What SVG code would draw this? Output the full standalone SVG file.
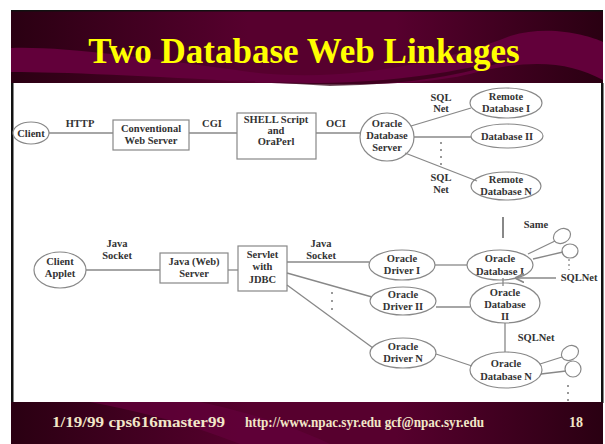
<svg xmlns="http://www.w3.org/2000/svg" width="605" height="444" viewBox="0 0 605 444">
<defs>
<linearGradient id="bg" x1="0" y1="0" x2="1" y2="0">
<stop offset="0" stop-color="#2a0012"/>
<stop offset="0.4" stop-color="#57002e"/>
<stop offset="0.65" stop-color="#57002e"/>
<stop offset="1" stop-color="#2a0012"/>
</linearGradient>
<marker id="ah" viewBox="0 0 10 10" refX="9" refY="5" markerWidth="7" markerHeight="7" orient="auto">
<path d="M0,0 L10,5 L0,10" fill="none" stroke="#888" stroke-width="2"/>
</marker>
<style>
.n ellipse,.n rect{fill:#fff;stroke:#888;stroke-width:1.2}
.t{font-family:"Liberation Serif","Times New Roman",serif;font-weight:bold;font-size:10.5px;fill:#333;text-anchor:middle}
.c line{stroke:#888;stroke-width:1.3}
.d{fill:#777}
.f{font-family:"Liberation Serif","Times New Roman",serif;font-weight:bold;font-size:14px;fill:#f2e6c8}
</style>
</defs>
<rect width="605" height="444" fill="#fff"/>
<!-- top banner -->
<rect x="11" y="10" width="592" height="73" fill="url(#bg)"/>
<path d="M11,48 C60,46 150,58 250,72 C350,84 450,60 510,36 C550,24 590,36 603,42 L603,80 C570,62 530,58 470,74 C420,86 340,86 250,82 C150,76 60,72 11,72 Z" fill="#62003a"/>
<path d="M230,80 C330,88 430,80 500,60 L520,56 C470,74 420,84 330,86 Z" fill="#300014" opacity="0.7"/>
<rect x="11" y="10" width="592" height="1.5" fill="#111"/>
<text x="304" y="63" font-family="Liberation Serif,'Times New Roman',serif" font-weight="bold" font-size="35" fill="#ffff00" text-anchor="middle">Two Database Web Linkages</text>
<!-- side rules -->
<rect x="11" y="83" width="2.5" height="320" fill="#111"/>
<rect x="601" y="83" width="2.5" height="320" fill="#111"/>
<!-- bottom banner -->
<rect x="11" y="402" width="592" height="42" fill="url(#bg)"/>
<path d="M90,402 C130,410 180,420 240,444 L330,444 C280,420 220,406 200,402 Z" fill="#62003a" opacity="0.8"/>
<text class="f" x="52" y="427" textLength="173" lengthAdjust="spacingAndGlyphs">1/19/99 cps616master99</text>
<text class="f" x="245" y="427" textLength="239" lengthAdjust="spacingAndGlyphs">http://www.npac.syr.edu gcf@npac.syr.edu</text>
<text class="f" x="583" y="427" text-anchor="end">18</text>

<!-- nodes -->
<g id="client" class="n"><ellipse cx="31" cy="133" rx="18" ry="11"/><text class="t" x="31" y="137">Client</text></g>
<g id="conv-web-server" class="n"><rect x="113" y="120" width="76" height="30"/><text class="t" x="151" y="132">Conventional</text><text class="t" x="151" y="144">Web Server</text></g>
<g id="shell-script" class="n"><rect x="237" y="113" width="79" height="46"/><text class="t" x="276" y="123">SHELL Script</text><text class="t" x="276" y="134">and</text><text class="t" x="276" y="145">OraPerl</text></g>
<g id="oracle-db-server" class="n"><ellipse cx="387" cy="137" rx="27" ry="24"/><text class="t" x="387" y="127">Oracle</text><text class="t" x="387" y="139">Database</text><text class="t" x="387" y="151">Server</text></g>
<g id="remote-db-1" class="n"><ellipse cx="506" cy="103" rx="36" ry="15"/><text class="t" x="506" y="100">Remote</text><text class="t" x="506" y="112">Database I</text></g>
<g id="db-2" class="n"><ellipse cx="507" cy="136" rx="36" ry="12"/><text class="t" x="507" y="140">Database II</text></g>
<g id="remote-db-n" class="n"><ellipse cx="506" cy="186" rx="35" ry="14"/><text class="t" x="506" y="183">Remote</text><text class="t" x="506" y="195">Database N</text></g>

<g id="client-applet" class="n"><ellipse cx="60" cy="270" rx="26" ry="18"/><text class="t" x="60" y="265">Client</text><text class="t" x="60" y="277">Applet</text></g>
<g id="java-web-server" class="n"><rect x="160" y="253" width="68" height="30"/><text class="t" x="194" y="265">Java (Web)</text><text class="t" x="194" y="277">Server</text></g>
<g id="servlet" class="n"><rect x="238" y="246" width="49" height="45"/><text class="t" x="262.5" y="258">Servlet</text><text class="t" x="262.5" y="270">with</text><text class="t" x="262.5" y="283">JDBC</text></g>
<g id="oracle-driver-1" class="n"><ellipse cx="402" cy="265" rx="33" ry="15"/><text class="t" x="402" y="262">Oracle</text><text class="t" x="402" y="274">Driver I</text></g>
<g id="oracle-driver-2" class="n"><ellipse cx="403" cy="301" rx="33" ry="14"/><text class="t" x="403" y="298">Oracle</text><text class="t" x="403" y="310">Driver II</text></g>
<g id="oracle-driver-n" class="n"><ellipse cx="403" cy="353" rx="33" ry="15"/><text class="t" x="403" y="350">Oracle</text><text class="t" x="403" y="362">Driver N</text></g>
<g id="oracle-db-1" class="n"><ellipse cx="500" cy="265" rx="33" ry="15"/><text class="t" x="500" y="262">Oracle</text><text class="t" x="500" y="275">Database I</text></g>
<g id="oracle-db-2" class="n"><ellipse cx="505" cy="303" rx="35" ry="20"/><text class="t" x="505" y="296">Oracle</text><text class="t" x="505" y="308">Database</text><text class="t" x="505" y="320">II</text></g>
<g id="oracle-db-n" class="n"><ellipse cx="506" cy="370" rx="36" ry="18"/><text class="t" x="506" y="367">Oracle</text><text class="t" x="506" y="380">Database N</text></g>
<g id="user-1" class="n"><ellipse cx="562" cy="236" rx="9" ry="7" transform="rotate(-30 562 236)"/></g>
<g id="user-2" class="n"><ellipse cx="570" cy="251" rx="8" ry="7"/></g>
<g id="user-3" class="n"><ellipse cx="570" cy="353" rx="9" ry="7" transform="rotate(-30 570 353)"/></g>
<g id="user-4" class="n"><ellipse cx="573" cy="369" rx="8" ry="8"/></g>

<!-- connectors -->
<g id="connectors" class="c">
<line x1="49" y1="133" x2="113" y2="133"/>
<line x1="189" y1="133" x2="237" y2="133"/>
<line x1="316" y1="133" x2="360" y2="133"/>
<line x1="411" y1="126" x2="471" y2="108"/>
<line x1="414" y1="137" x2="471" y2="137"/>
<line x1="405" y1="153" x2="477" y2="181"/>
<line x1="86" y1="270" x2="160" y2="270"/>
<line x1="228" y1="270" x2="238" y2="270"/>
<line x1="287" y1="262" x2="369" y2="262"/>
<line x1="287" y1="273" x2="372" y2="297"/>
<line x1="287" y1="285" x2="373" y2="348"/>
<line x1="435" y1="265" x2="467" y2="265"/>
<line x1="436" y1="307" x2="470" y2="307"/>
<line x1="436" y1="354" x2="472" y2="366"/>
<line x1="505" y1="323" x2="505" y2="352"/>
<line x1="503" y1="278" x2="503" y2="286"/>
<line x1="503" y1="217" x2="503" y2="238" style="stroke-width:2"/>
<line x1="528" y1="254" x2="555" y2="241"/>
<line x1="533" y1="259" x2="563" y2="252"/>
<line x1="540" y1="364" x2="562" y2="357"/>
<line x1="541" y1="374" x2="566" y2="371"/>
<line x1="556" y1="278" x2="516" y2="278" marker-end="url(#ah)"/>
<line x1="569" y1="259" x2="569" y2="270" style="stroke-dasharray:2 3"/>
<circle class="d" cx="441" cy="143" r="1"/><circle class="d" cx="441" cy="150" r="1"/><circle class="d" cx="441" cy="157" r="1"/><circle class="d" cx="441" cy="164" r="1"/>
<circle class="d" cx="332" cy="293" r="1"/><circle class="d" cx="332" cy="301" r="1"/><circle class="d" cx="332" cy="309" r="1"/>
<circle class="d" cx="568" cy="386" r="1"/><circle class="d" cx="568" cy="393" r="1"/><circle class="d" cx="568" cy="400" r="1"/>
<text class="t" x="80" y="127">HTTP</text>
<text class="t" x="212" y="127">CGI</text>
<text class="t" x="336" y="127">OCI</text>
<text class="t" x="441" y="101">SQL</text>
<text class="t" x="441" y="112">Net</text>
<text class="t" x="441" y="181">SQL</text>
<text class="t" x="441" y="193">Net</text>
<text class="t" x="117" y="247">Java</text>
<text class="t" x="117" y="259">Socket</text>
<text class="t" x="321" y="247">Java</text>
<text class="t" x="321" y="259">Socket</text>
<text class="t" x="536" y="228">Same</text>
<text class="t" x="579" y="281">SQLNet</text>
<text class="t" x="536" y="341">SQLNet</text>
</g>
</svg>
